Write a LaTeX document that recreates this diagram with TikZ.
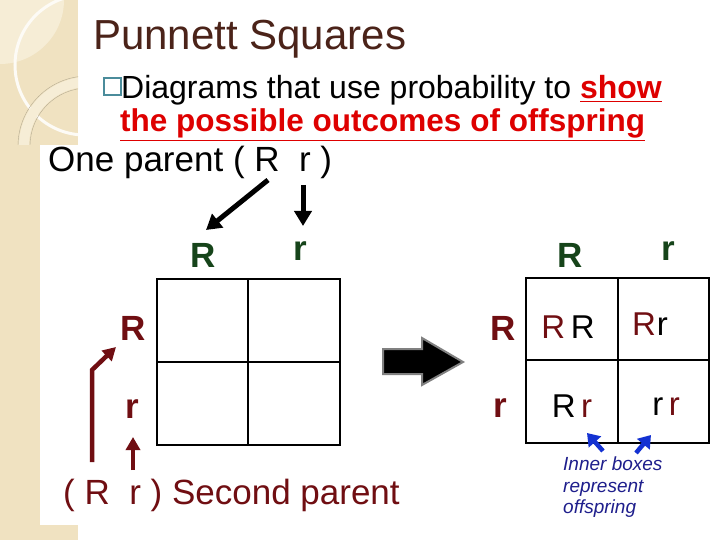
\documentclass[tikz,border=0pt]{standalone}
\usepackage{fontspec}
\setmainfont{Liberation Sans}
\usetikzlibrary{arrows.meta}

\definecolor{paper}{RGB}{240,226,193}
\definecolor{paperlight}{RGB}{246,237,214}
\definecolor{titlebrown}{RGB}{75,35,25}
\definecolor{maroon}{RGB}{112,14,18}
\definecolor{leafgreen}{RGB}{22,68,26}
\definecolor{linkred}{RGB}{222,0,0}
\definecolor{notenavy}{RGB}{30,30,140}
\definecolor{cursorblue}{RGB}{20,50,210}
\definecolor{bullteal}{RGB}{75,140,155}

\tikzstyle{allele} = [font=\fontsize{35}{35}\selectfont\bfseries, inner sep=0pt]
\tikzstyle{father} = [allele, text=leafgreen]
\tikzstyle{mother} = [allele, text=maroon]
\tikzstyle{geno} = [font=\fontsize{33}{33}\selectfont, inner sep=0pt]
\tikzstyle{line} = [anchor=base west, inner sep=0pt]
\tikzstyle{pointer} = [-{Triangle[length=15pt,width=17pt]}, line width=5pt]
\tikzstyle{cursor} = [cursorblue, line width=4.5pt, -{Triangle[length=12pt,width=16pt]}]
\tikzstyle{box} = [line width=2pt, black]

\begin{document}
\begin{tikzpicture}[x=1pt,y=-1pt]
\useasboundingbox (0,0) rectangle (720,540);
% slide background
\fill[white] (0,0) rectangle (720,540);
\fill[paper] (0,0) rectangle (78,540);
\begin{scope}
\clip (0,0) rectangle (78,145);
\fill[paperlight] (0,0) circle (64);
\draw[white!85!paper, line width=3pt] (85,65) circle (70);
\draw[paperlight, line width=10pt] (88,146) circle (64);
\draw[black!25!paper, line width=0.4pt] (88,146) circle (70) (88,146) circle (58);
\end{scope}
\fill[white] (40,145) rectangle (720,525);

% heading and bullet
\node[line, text=titlebrown, font=\fontsize{42}{42}\selectfont] (title) at (93,50) {Punnett Squares};
\node[draw=bullteal, line width=1.5pt, minimum size=17pt, inner sep=0pt, anchor=south west] (bullet) at (103,96) {};
\node[line, font=\fontsize{32}{32}\selectfont] (def1) at (121,99)
  {Diagrams that use probability to \textcolor{linkred}{\bfseries\underline{show}}};
\node[line, text=linkred, font=\fontsize{31.5}{32}\selectfont\bfseries] (def2) at (120,132)
  {\underline{the possible outcomes of offspring}};

% parent texts
\node[line, font=\fontsize{35}{35}\selectfont] (parent1) at (48,172) {One parent (~R~~r~)};
\node[line, text=maroon, font=\fontsize{35}{35}\selectfont] (parent2) at (63,504) {(~R~~r~) Second parent};

% empty square
\draw[box] (157,279) rectangle (340,445);
\draw[box] (248,279) -- (248,445) (157,362) -- (340,362);
\node[father] (fR) at (203,255) {R};
\node[father] (fr) at (300,251) {r};
\node[mother] (mR) at (133,328) {R};
\node[mother] (mr) at (132,409) {r};

\coordinate (tailR) at (268,180);
\coordinate (tipR) at (206,230);
\coordinate (tailr) at (303,185);
\coordinate (tipr) at (303,226);
\draw[pointer] (tailR) -- (tipR);
\draw[pointer] (tailr) -- (tipr);

\coordinate (footR) at (92,462);
\coordinate (kneeR) at (92,370);
\coordinate (tipmR) at (116,347);
\coordinate (footr) at (133,470);
\coordinate (tipmr) at (133,437);
\draw[pointer, maroon, line width=4.5pt, -{Triangle[length=13pt,width=14pt]}] (footR) -- (kneeR) -- (tipmR);
\draw[pointer, maroon, line width=4.5pt, -{Triangle[length=13pt,width=14pt]}] (footr) -- (tipmr);

% big arrow
\draw[fill=black, draw=black!50, line width=2pt, line join=miter]
  (383,349) -- (422,349) -- (422,338) -- (463,362) -- (422,385) -- (422,374) -- (383,374) -- cycle;

% filled square
\draw[box] (526,278) rectangle (709,443);
\draw[box] (618,278) -- (618,443) (526,360) -- (709,360);
\node[father] (gR) at (570,255) {R};
\node[father] (gr) at (668,251) {r};
\node[mother] (hR) at (503,328) {R};
\node[mother] (hr) at (500,408) {r};

\node[geno] (RR) at (568,327) {\textcolor{maroon}{R}\,R};
\node[geno] (Rr1) at (650,324) {\textcolor{maroon}{R}\kern1pt r};
\node[geno] (Rr2) at (572,406) {R\,\textcolor{maroon}{r}};
\node[geno] (rr) at (666,407) {r\,\textcolor{maroon}{r}};

% note
\node[anchor=north west, align=left, inner sep=0pt, text=notenavy,
      font=\fontsize{19}{21.5}\selectfont\itshape] (note) at (563,457)
  {Inner boxes\\represent\\offspring};
\coordinate (cur1) at (603,451);
\coordinate (cur1tip) at (587,433);
\coordinate (cur2) at (636,453);
\coordinate (cur2tip) at (651,435);
\draw[cursor] (cur1) -- (cur1tip);
\draw[cursor] (cur2) -- (cur2tip);
\end{tikzpicture}
\end{document}
